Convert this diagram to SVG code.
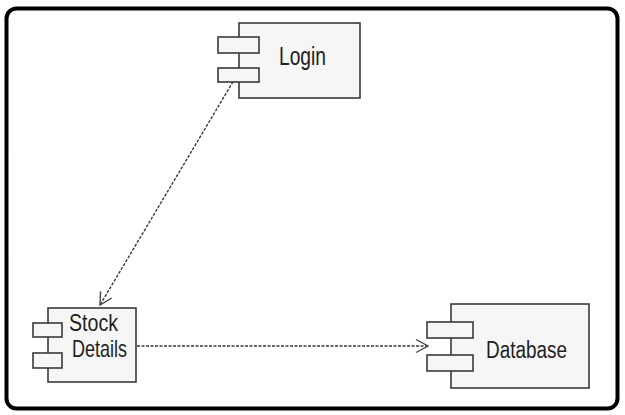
<svg xmlns="http://www.w3.org/2000/svg" width="625" height="415" viewBox="0 0 625 415">
<style>
.body{fill:#f6f6f6;stroke:#3a3a3a;stroke-width:1.6}
.tab{fill:#f6f6f6;stroke:#3a3a3a;stroke-width:1.6}
.lbl{font-family:"Liberation Sans",Arial,sans-serif;fill:#222}
.dep{fill:none;stroke:#3a3a3a;stroke-width:1.4;stroke-dasharray:3,1.5}
</style>
<defs>
<marker id="open" markerUnits="userSpaceOnUse" markerWidth="18" markerHeight="18" refX="13" refY="8" orient="auto">
<path d="M1,1.5 L13,8 L1,14.5" fill="none" stroke="#444" stroke-width="1.4"/>
</marker>
</defs>
<rect x="6.5" y="8.5" width="611" height="400" rx="10" fill="#fff" stroke="#000" stroke-width="4"/>
<g id="connectors">
<line class="dep" x1="240" y1="70" x2="100" y2="305" marker-end="url(#open)"/>
<line class="dep" x1="137" y1="346" x2="428" y2="346" marker-end="url(#open)"/>
</g>
<g id="login">
<rect class="body" x="239" y="23" width="121" height="75"/>
<rect class="tab" x="218" y="37" width="41" height="16"/>
<rect class="tab" x="218" y="68" width="41" height="14"/>
<text class="lbl" x="279" y="65" font-size="25" textLength="47" lengthAdjust="spacingAndGlyphs">Login</text>
</g>
<g id="stock-details">
<rect class="body" x="48" y="308" width="88" height="74"/>
<rect class="tab" x="33" y="323" width="29" height="14"/>
<rect class="tab" x="33" y="353" width="29" height="15"/>
<text class="lbl" x="69" y="331" font-size="24" textLength="49" lengthAdjust="spacingAndGlyphs">Stock</text>
<text class="lbl" x="72" y="357" font-size="24" textLength="55" lengthAdjust="spacingAndGlyphs">Details</text>
</g>
<g id="database">
<rect class="body" x="451" y="304" width="138" height="84"/>
<rect class="tab" x="427" y="322" width="46" height="16"/>
<rect class="tab" x="427" y="355" width="46" height="16"/>
<text class="lbl" x="486" y="358" font-size="23" textLength="81" lengthAdjust="spacingAndGlyphs">Database</text>
</g>
</svg>
